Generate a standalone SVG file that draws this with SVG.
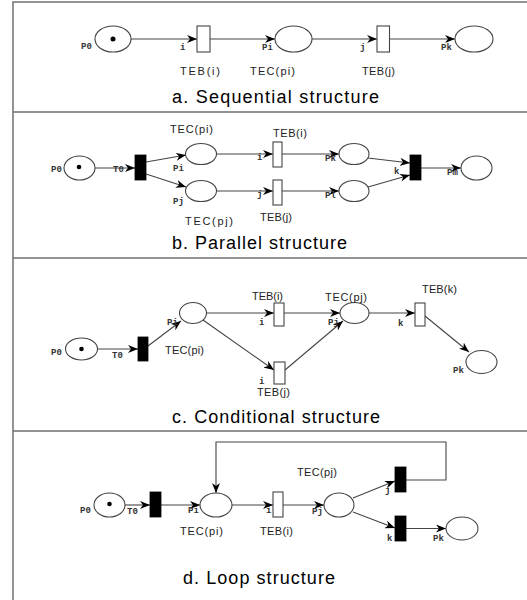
<svg xmlns="http://www.w3.org/2000/svg" width="527" height="600" viewBox="0 0 527 600">
<style>
.frame{stroke:#707070;stroke-width:1.5;fill:none}
.pl{fill:#fff;stroke:#444;stroke-width:1.1}
.tr{fill:#fff;stroke:#444;stroke-width:1.1}
.bar{fill:#000;stroke:#000;stroke-width:0.8}
.tok{fill:#000}
.arc{stroke:#444;stroke-width:1.1;fill:none}
.lb{font-family:"Liberation Mono",monospace;font-size:9px;font-weight:bold;fill:#333}
.tt{font-family:"Liberation Sans",Arial,sans-serif;font-size:11px;fill:#222}
.ti{font-family:"Liberation Sans",Arial,sans-serif;font-size:18px;fill:#000}
</style>
<defs>
<marker id="ah" viewBox="0 0 10 8" refX="10" refY="4" markerWidth="10" markerHeight="8" markerUnits="userSpaceOnUse" orient="auto">
<path d="M0,0 L10,4 L0,8 L3,4 z" fill="#000"/>
</marker>
</defs>
<rect width="527" height="600" fill="#fff"/>
<g id="frame">
<path class="frame" d="M13,600 L13,2 L527,2"/>
<path class="frame" d="M13,112 L527,112 M13,258 L527,258 M13,431 L527,431"/>
</g>
<g id="connectors">
<path class="arc" d="M131,39 L197,39" marker-end="url(#ah)"/>
<path class="arc" d="M210,39 L275,39" marker-end="url(#ah)"/>
<path class="arc" d="M312,39 L377,39" marker-end="url(#ah)"/>
<path class="arc" d="M389,39 L455,39" marker-end="url(#ah)"/>
<path class="arc" d="M95,168 L135,168" marker-end="url(#ah)"/>
<path class="arc" d="M146,162 L186,155" marker-end="url(#ah)"/>
<path class="arc" d="M146,174 L186,187" marker-end="url(#ah)"/>
<path class="arc" d="M216.5,154 L273,154" marker-end="url(#ah)"/>
<path class="arc" d="M282,154 L339,154" marker-end="url(#ah)"/>
<path class="arc" d="M216.5,191 L273,191" marker-end="url(#ah)"/>
<path class="arc" d="M282,191 L339,191" marker-end="url(#ah)"/>
<path class="arc" d="M368,158 L410,163" marker-end="url(#ah)"/>
<path class="arc" d="M368,187 L410,175" marker-end="url(#ah)"/>
<path class="arc" d="M421,168 L461,168" marker-end="url(#ah)"/>
<path class="arc" d="M97.5,349 L138,349" marker-end="url(#ah)"/>
<path class="arc" d="M148,346 L181,321" marker-end="url(#ah)"/>
<path class="arc" d="M206.5,313 L274,313" marker-end="url(#ah)"/>
<path class="arc" d="M284,313 L340,313" marker-end="url(#ah)"/>
<path class="arc" d="M369,313 L415,313" marker-end="url(#ah)"/>
<path class="arc" d="M425,316 L469,352" marker-end="url(#ah)"/>
<path class="arc" d="M203,320 L274,370" marker-end="url(#ah)"/>
<path class="arc" d="M285,370 L343,321" marker-end="url(#ah)"/>
<path class="arc" d="M125,505 L150,505" marker-end="url(#ah)"/>
<path class="arc" d="M161,505 L200,505" marker-end="url(#ah)"/>
<path class="arc" d="M232,505 L273,505" marker-end="url(#ah)"/>
<path class="arc" d="M283,505 L324,505" marker-end="url(#ah)"/>
<path class="arc" d="M353,498 L395,481" marker-end="url(#ah)"/>
<path class="arc" d="M353,512 L395,528" marker-end="url(#ah)"/>
<path class="arc" d="M406,528.5 L446,528.5" marker-end="url(#ah)"/>
<path class="arc" d="M406,480 L446,480 L446,442 L216,442 L216,493" marker-end="url(#ah)"/>
</g>
<g id="a-P0"><ellipse class="pl" cx="113" cy="39" rx="18" ry="13"/><circle class="tok" cx="113" cy="39" r="2.5"/><text class="lb" x="81" y="49">P0</text></g>
<g id="a-Ti"><rect class="tr" x="197" y="26" width="13" height="26"/><text class="lb" x="180" y="50">i</text><text class="tt" x="180" y="75" textLength="40">TEB(i)</text></g>
<g id="a-Pi"><ellipse class="pl" cx="293.5" cy="39" rx="18.5" ry="13"/><text class="lb" x="262" y="50">Pi</text><text class="tt" x="250" y="75" textLength="45">TEC(pi)</text></g>
<g id="a-Tj"><rect class="tr" x="377" y="26" width="12.5" height="26"/><text class="lb" x="360" y="50">j</text><text class="tt" x="362" y="75" textLength="33">TEB(j)</text></g>
<g id="a-Pk"><ellipse class="pl" cx="474" cy="39" rx="19" ry="13"/><text class="lb" x="441" y="50">Pk</text></g>
<text class="ti" x="172" y="103" textLength="207">a. Sequential structure</text>
<g id="b-P0"><ellipse class="pl" cx="79.5" cy="168" rx="15.5" ry="12"/><circle class="tok" cx="79" cy="167" r="2.3"/><text class="lb" x="51" y="172">P0</text></g>
<g id="b-T0"><rect class="bar" x="135" y="155" width="11" height="25"/><text class="lb" x="113" y="172">T0</text></g>
<g id="b-Pi"><ellipse class="pl" cx="201" cy="154" rx="15.5" ry="10.5"/><text class="lb" x="173" y="171">Pi</text><text class="tt" x="170" y="133" textLength="43">TEC(pi)</text></g>
<g id="b-Pj"><ellipse class="pl" cx="201" cy="191" rx="15.5" ry="10.5"/><text class="lb" x="173" y="204">Pj</text><text class="tt" x="185" y="225" textLength="48">TEC(pj)</text></g>
<g id="b-Ti"><rect class="tr" x="273" y="142" width="9" height="25"/><text class="lb" x="257" y="160">i</text><text class="tt" x="273" y="137" textLength="34">TEB(i)</text></g>
<g id="b-Tj"><rect class="tr" x="273" y="180" width="9" height="25"/><text class="lb" x="257" y="197">j</text><text class="tt" x="260" y="221" textLength="32">TEB(j)</text></g>
<g id="b-Pk"><ellipse class="pl" cx="354" cy="154" rx="15" ry="10.5"/><text class="lb" x="325" y="161">Pk</text></g>
<g id="b-Pl"><ellipse class="pl" cx="354" cy="191" rx="15" ry="10.5"/><text class="lb" x="325" y="198">Pl</text></g>
<g id="b-Tk"><rect class="bar" x="410" y="155" width="11" height="25"/><text class="lb" x="394" y="174">k</text></g>
<g id="b-Pm"><ellipse class="pl" cx="476.5" cy="168" rx="15.5" ry="12"/><text class="lb" x="447" y="175">Pm</text></g>
<text class="ti" x="172" y="249" textLength="175">b. Parallel structure</text>
<g id="c-P0"><ellipse class="pl" cx="81.5" cy="349" rx="16" ry="11"/><circle class="tok" cx="81.5" cy="349" r="2.3"/><text class="lb" x="51" y="355">P0</text></g>
<g id="c-T0"><rect class="bar" x="138" y="337" width="10" height="24"/><text class="lb" x="112" y="358">T0</text></g>
<g id="c-Pi"><ellipse class="pl" cx="193" cy="313" rx="13.5" ry="10.5"/><text class="lb" x="167" y="325">Pi</text><text class="tt" x="165" y="354" textLength="39">TEC(pi)</text></g>
<g id="c-Ti"><rect class="tr" x="274" y="303" width="10" height="23"/><text class="lb" x="259" y="325">i</text><text class="tt" x="252" y="300" textLength="31">TEB(i)</text></g>
<g id="c-Tj"><rect class="tr" x="274" y="362" width="11" height="22"/><text class="lb" x="259" y="384">i</text><text class="tt" x="257" y="396" textLength="33">TEB(j)</text></g>
<g id="c-Pj"><ellipse class="pl" cx="354.5" cy="313" rx="14.5" ry="10.5"/><text class="lb" x="328" y="325">Pj</text><text class="tt" x="325" y="301" textLength="42">TEC(pj)</text></g>
<g id="c-Tk"><rect class="tr" x="415" y="303" width="10" height="23"/><text class="lb" x="398" y="326">k</text><text class="tt" x="422" y="293" textLength="35">TEB(k)</text></g>
<g id="c-Pk"><ellipse class="pl" cx="481.5" cy="362" rx="15.5" ry="11.5"/><text class="lb" x="453" y="373">Pk</text></g>
<text class="ti" x="172" y="423" textLength="208">c. Conditional structure</text>
<g id="d-P0"><ellipse class="pl" cx="109.5" cy="505" rx="15.5" ry="12"/><circle class="tok" cx="109.5" cy="504" r="2.3"/><text class="lb" x="80" y="513">P0</text></g>
<g id="d-T0"><rect class="bar" x="150" y="492" width="11" height="25"/><text class="lb" x="127" y="514">T0</text></g>
<g id="d-Pi"><ellipse class="pl" cx="216" cy="505" rx="16" ry="12"/><text class="lb" x="188" y="513">Pi</text><text class="tt" x="180" y="535" textLength="43">TEC(pi)</text></g>
<g id="d-Ti"><rect class="tr" x="273" y="492" width="10" height="25"/><text class="lb" x="266" y="513">i</text><text class="tt" x="260" y="535" textLength="33">TEB(i)</text></g>
<g id="d-Pj"><ellipse class="pl" cx="339" cy="505" rx="15" ry="12"/><text class="lb" x="312" y="514">Pj</text><text class="tt" x="297" y="476" textLength="40">TEC(pj)</text></g>
<g id="d-Tj"><rect class="bar" x="395" y="467" width="11" height="25"/><text class="lb" x="385" y="493">j</text></g>
<g id="d-Tk"><rect class="bar" x="395" y="516" width="11" height="25"/><text class="lb" x="387" y="541">k</text></g>
<g id="d-Pk"><ellipse class="pl" cx="462" cy="528.5" rx="16" ry="11.5"/><text class="lb" x="433" y="541">Pk</text></g>
<text class="ti" x="183" y="584" textLength="152">d. Loop structure</text>
</svg>
